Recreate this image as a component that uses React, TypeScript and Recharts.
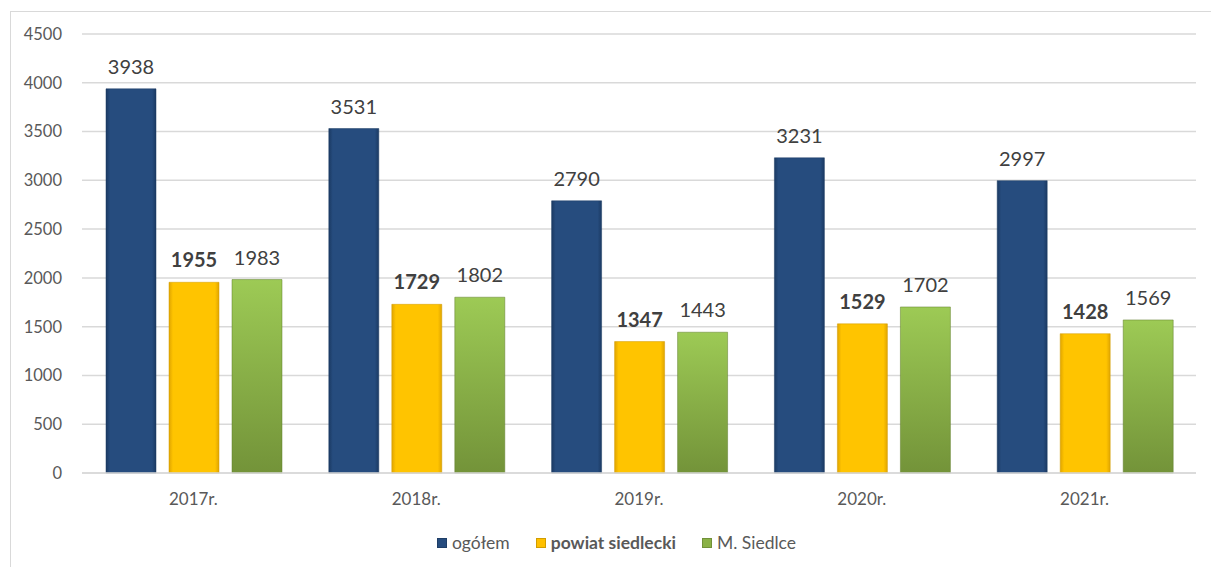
import React from "react";
import { BarChart, Bar, XAxis, YAxis, CartesianGrid, LabelList } from "recharts";

const categories = ["2017r.", "2018r.", "2019r.", "2020r.", "2021r."];
const ogolem = [3938, 3531, 2790, 3231, 2997];
const powiat = [1955, 1729, 1347, 1529, 1428];
const siedlce = [1983, 1802, 1443, 1702, 1569];
const yTicks = [0, 500, 1000, 1500, 2000, 2500, 3000, 3500, 4000, 4500];

const seriesNames = ["ogółem", "powiat siedlecki", "M. Siedlce"];
const seriesColors = ["#264C7E", "#FFC000", "#8AB146"];

const data = categories.map((c, i) => ({
  name: c,
  ogolem: ogolem[i],
  powiat: powiat[i],
  siedlce: siedlce[i],
}));

const FONT = "Lato, 'Open Sans', sans-serif";

const LegendBlock = () => (
  <div
    style={{
      position: "absolute",
      left: 0,
      top: 532,
      width: 1211,
      display: "flex",
      justifyContent: "center",
      alignItems: "center",
      fontFamily: FONT,
      fontSize: 17.5,
      color: "#595959",
      gap: 26,
      paddingLeft: 22,
      boxSizing: "border-box",
      lineHeight: "22px",
    }}
  >
    {seriesNames.map((n, i) => (
      <div key={n} style={{ display: "flex", alignItems: "center" }}>
        <span
          style={{
            display: "inline-block",
            width: 10,
            height: 10,
            background: seriesColors[i],
            marginRight: 5,
            boxShadow: "inset 0 0 0 1px rgba(0,0,0,0.18)",
          }}
        />
        <span style={{ fontWeight: i === 1 ? 700 : 400 }}>{n}</span>
      </div>
    ))}
  </div>
);

export default function App() {
  return (
    <div
      style={{
        position: "fixed",
        left: 0,
        top: 0,
        width: 1211,
        height: 567,
        overflow: "hidden",
        background: "#fff",
      }}
    >
      <div
        style={{
          position: "absolute",
          left: 10,
          top: 11,
          width: 1220,
          height: 600,
          border: "1px solid #d9d9d9",
        }}
      />
      <div style={{ position: "absolute", left: 0, top: 0 }}>
        <BarChart
          width={1211}
          height={567}
          data={data}
          margin={{ top: 34, right: 15, bottom: 64, left: 0 }}
          barCategoryGap={24}
          barGap={13}
        >
          <defs>
            <linearGradient id="gBlue" x1="0" y1="0" x2="1" y2="0">
              <stop offset="0%" stopColor="#1B3A63" />
              <stop offset="8%" stopColor="#264C7E" />
              <stop offset="92%" stopColor="#264C7E" />
              <stop offset="100%" stopColor="#1B3A63" />
            </linearGradient>
            <linearGradient id="gYellow" x1="0" y1="0" x2="1" y2="0">
              <stop offset="0%" stopColor="#E0A500" />
              <stop offset="8%" stopColor="#FFC400" />
              <stop offset="92%" stopColor="#FFC400" />
              <stop offset="100%" stopColor="#E0A500" />
            </linearGradient>
            <linearGradient id="gGreen" x1="0" y1="0" x2="0" y2="1">
              <stop offset="0%" stopColor="#9DCA55" />
              <stop offset="100%" stopColor="#739339" />
            </linearGradient>
          </defs>
          <CartesianGrid vertical={false} stroke="#d9d9d9" strokeWidth={1.5} />
          <XAxis
            dataKey="name"
            height={30}
            axisLine={{ stroke: "#d9d9d9", strokeWidth: 1.5 }}
            tickLine={false}
            tickMargin={14}
            tick={{ fill: "#595959", fontSize: 17, fontFamily: FONT }}
          />
          <YAxis
            width={82}
            domain={[0, 4500]}
            ticks={yTicks}
            axisLine={false}
            tickLine={false}
            tickSize={0}
            tickMargin={20}
            tick={{ fill: "#595959", fontSize: 16.5, fontFamily: FONT }}
          />
          <Bar dataKey="ogolem" name={seriesNames[0]} fill="url(#gBlue)" stroke="#1B3A63" strokeWidth={0.5} isAnimationActive={false}>
            <LabelList dataKey="ogolem" position="top" offset={15} fill="#404040" fontSize={20} fontFamily={FONT} />
          </Bar>
          <Bar dataKey="powiat" name={seriesNames[1]} fill="url(#gYellow)" stroke="#D09A00" strokeWidth={0.5} isAnimationActive={false}>
            <LabelList dataKey="powiat" position="top" offset={15} fill="#404040" fontSize={20} fontWeight={700} fontFamily={FONT} />
          </Bar>
          <Bar dataKey="siedlce" name={seriesNames[2]} fill="url(#gGreen)" stroke="#5F7D2B" strokeWidth={0.5} isAnimationActive={false}>
            <LabelList dataKey="siedlce" position="top" offset={15} fill="#404040" fontSize={20} fontFamily={FONT} />
          </Bar>
        </BarChart>
      </div>
      <LegendBlock />
    </div>
  );
}
